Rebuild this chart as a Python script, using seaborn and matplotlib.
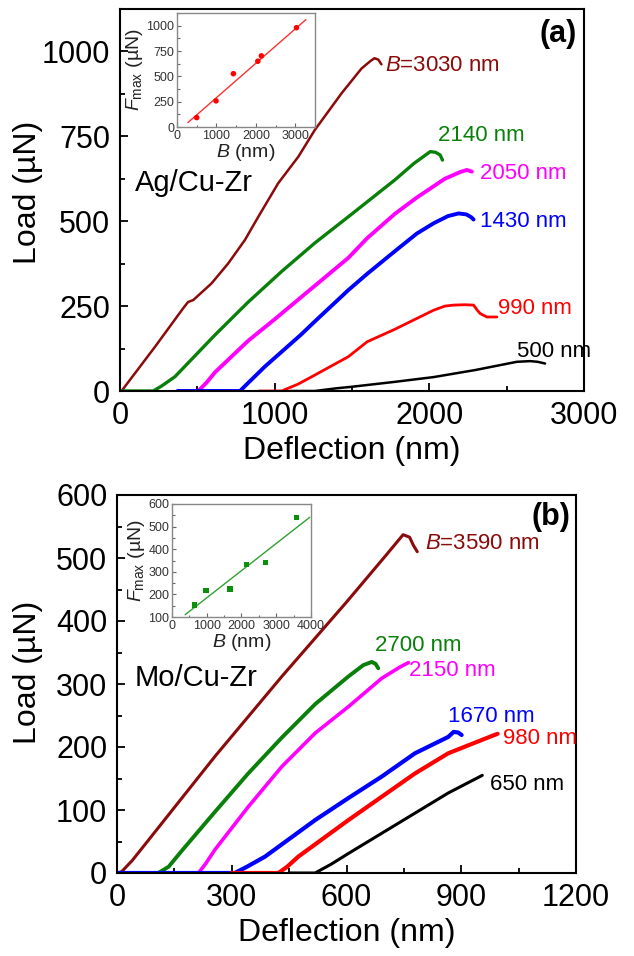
import numpy as np
import pandas as pd
import matplotlib
matplotlib.use("Agg")
import matplotlib.pyplot as plt
from matplotlib.ticker import MultipleLocator
import seaborn as sns

sns.set_style("ticks")
plt.rcParams['font.family'] = ['Liberation Sans', 'DejaVu Sans']
plt.rcParams['mathtext.fontset'] = 'custom'
plt.rcParams['mathtext.rm'] = 'Liberation Sans'
plt.rcParams['mathtext.it'] = 'Liberation Sans:italic'
plt.rcParams['mathtext.bf'] = 'Liberation Sans:bold'
plt.rcParams['xtick.bottom'] = True
plt.rcParams['ytick.left'] = True
plt.rcParams['text.color'] = 'black'
plt.rcParams['axes.labelcolor'] = 'black'
plt.rcParams['xtick.color'] = 'black'
plt.rcParams['ytick.color'] = 'black'

# ---------------- Panel (a): Ag/Cu-Zr ----------------
a_labels = ["B=3030 nm", "2140 nm", "2050 nm", "1430 nm", "990 nm", "500 nm"]
a_brown_x = [0, 15, 226, 409, 440, 474, 592, 700, 808, 894, 1023, 1153, 1260, 1433, 1562, 1620, 1645, 1670, 1690]
a_brown_y = [0, 3, 130, 244, 262, 268, 317, 376, 445, 513, 612, 690, 769, 877, 950, 972, 980, 976, 962]
a_green_x = [0, 215, 270, 355, 614, 829, 1045, 1260, 1476, 1778, 1900, 2006, 2040, 2070, 2085]
a_green_y = [0, 0, 15, 42, 165, 262, 352, 436, 513, 622, 670, 705, 703, 695, 680]
a_magenta_x = [480, 506, 560, 614, 829, 1002, 1260, 1476, 1598, 1778, 1920, 2100, 2200, 2243, 2275]
a_magenta_y = [0, 0, 25, 55, 148, 212, 310, 392, 450, 522, 570, 625, 645, 651, 646]
a_blue_x = [372, 776, 820, 937, 1168, 1260, 1476, 1598, 1778, 1920, 2028, 2120, 2189, 2240, 2270, 2286]
a_blue_y = [0, 0, 20, 72, 165, 205, 297, 345, 412, 464, 494, 515, 523, 520, 512, 505]
a_red_x = [900, 1045, 1150, 1260, 1476, 1598, 1778, 2028, 2100, 2157, 2230, 2286, 2310, 2329, 2372, 2437]
a_red_y = [0, 0, 20, 47, 101, 145, 182, 238, 250, 253, 254, 253, 238, 228, 218, 218]
a_black_x = [1100, 1260, 1400, 1490, 1778, 2028, 2300, 2566, 2652, 2700, 2748]
a_black_y = [0, 0, 8, 12, 27, 41, 62, 86, 88, 86, 81]

# inset (a)
ia_B = [500, 990, 1430, 2050, 2140, 3030]
ia_F = [93, 258, 526, 649, 702, 980]
ia_fit_B = [275, 3270]
ia_fit_F = [43, 1060]

# ---------------- Panel (b): Mo/Cu-Zr ----------------
b_labels = ["B=3590 nm", "2700 nm", "2150 nm", "1670 nm", "980 nm", "650 nm"]
b_brown_x = [0, 12, 40, 82, 256, 431, 600, 700, 748, 765, 775, 785]
b_brown_y = [0, 2, 20, 52, 185, 312, 430, 502, 537, 533, 520, 510]
b_green_x = [0, 108, 135, 169, 256, 343, 431, 518, 605, 644, 666, 676, 683]
b_green_y = [0, 0, 10, 35, 97, 158, 215, 268, 312, 330, 335, 332, 325]
b_magenta_x = [120, 213, 232, 256, 343, 431, 518, 605, 692, 740, 762]
b_magenta_y = [0, 0, 15, 37, 105, 169, 222, 264, 309, 327, 334]
b_blue_x = [0, 308, 340, 387, 518, 605, 692, 779, 866, 880, 892, 901]
b_blue_y = [0, 0, 10, 26, 84, 119, 153, 190, 216, 224, 223, 219]
b_red_x = [300, 422, 445, 474, 605, 692, 779, 866, 953, 995]
b_red_y = [0, 0, 10, 26, 84, 121, 158, 190, 211, 221]
b_black_x = [450, 518, 560, 605, 692, 779, 866, 955]
b_black_y = [0, 0, 14, 31, 63, 95, 127, 155]

# inset (b)
ib_B = [650, 980, 1670, 2150, 2700, 3590]
ib_F = [153, 219, 224, 334, 340, 541]
ib_fit_B = [377, 3962]
ib_fit_F = [110, 541]

colors = ["#8B0A0A", "#0A800A", "#FF00FF", "#0000FF", "#FF0000", "#000000"]
widths_a = [1.8, 2.4, 2.8, 2.8, 2.0, 1.8]
widths_b = [2.2, 2.8, 2.6, 3.0, 3.0, 2.2]

fig = plt.figure(figsize=(6.34, 9.56), dpi=100)
fig.patch.set_facecolor("white")

axA = fig.add_axes([120/634, 1-391/956, 464/634, 382/956])
axB = fig.add_axes([117/634, 1-873/956, 459/634, 378/956])


def draw_curves(ax, xs, ys, widths):
    for x, y, c, w in zip(xs, ys, colors, widths):
        df = pd.DataFrame({"x": x, "y": y})
        sns.lineplot(data=df, x="x", y="y", ax=ax, color=c, lw=w,
                     sort=False, estimator=None)


def style_main(ax):
    for s in ax.spines.values():
        s.set_visible(True)
        s.set_linewidth(1.5)
        s.set_color("black")
    ax.tick_params(which="both", direction="in", bottom=True, left=True,
                   top=False, right=False, labelsize=22, width=1.3, pad=7,
                   color="black", labelcolor="black")
    ax.tick_params(which="major", length=6)
    ax.tick_params(which="minor", length=3.5)


draw_curves(axA, [a_brown_x, a_green_x, a_magenta_x, a_blue_x, a_red_x, a_black_x],
            [a_brown_y, a_green_y, a_magenta_y, a_blue_y, a_red_y, a_black_y], widths_a)
axA.set_xlim(0, 3000)
axA.set_ylim(0, 1125)
axA.xaxis.set_major_locator(MultipleLocator(1000))
axA.xaxis.set_minor_locator(MultipleLocator(500))
axA.yaxis.set_major_locator(MultipleLocator(250))
axA.yaxis.set_minor_locator(MultipleLocator(125))
style_main(axA)
axA.set_xlabel("Deflection (nm)", fontsize=23, labelpad=4, color="black")
axA.set_ylabel("Load (µN)", fontsize=23, color="black")
axA.yaxis.set_label_coords(-0.166, 0.52)

a_pos = [(1713, 960), (2056, 751), (2327, 642), (2327, 499), (2443, 244), (2564, 116)]
for (tx, ty), lab, c in zip(a_pos, a_labels, colors):
    if lab.startswith("B="):
        lab = r"$\mathit{B}$" + lab[1:]
    axA.text(tx, ty, lab, color=c, fontsize=16, ha="left", va="center")
axA.text(97, 612, "Ag/Cu-Zr", fontsize=21, ha="left", va="center", color="black")
axA.text(0.984, 0.935, "(a)", transform=axA.transAxes, fontsize=22,
         fontweight="bold", ha="right", va="center", color="black")

draw_curves(axB, [b_brown_x, b_green_x, b_magenta_x, b_blue_x, b_red_x, b_black_x],
            [b_brown_y, b_green_y, b_magenta_y, b_blue_y, b_red_y, b_black_y], widths_b)
axB.set_xlim(0, 1200)
axB.set_ylim(0, 600)
axB.xaxis.set_major_locator(MultipleLocator(300))
axB.xaxis.set_minor_locator(MultipleLocator(150))
axB.yaxis.set_major_locator(MultipleLocator(100))
axB.yaxis.set_minor_locator(MultipleLocator(50))
style_main(axB)
axB.set_xlabel("Deflection (nm)", fontsize=23, labelpad=4, color="black")
axB.set_ylabel("Load (µN)", fontsize=23, color="black")
axB.yaxis.set_label_coords(-0.161, 0.532)

b_pos = [(805, 523), (674, 361), (764, 322), (866, 249), (1010, 213), (975, 141)]
for (tx, ty), lab, c in zip(b_pos, b_labels, colors):
    if lab.startswith("B="):
        lab = r"$\mathit{B}$" + lab[1:]
    axB.text(tx, ty, lab, color=c, fontsize=16, ha="left", va="center")
axB.text(47, 309, "Mo/Cu-Zr", fontsize=21, ha="left", va="center", color="black")
axB.text(0.987, 0.943, "(b)", transform=axB.transAxes, fontsize=22,
         fontweight="bold", ha="right", va="center", color="black")

# ---------------- insets ----------------
def style_inset(ax):
    for s in ax.spines.values():
        s.set_visible(True)
        s.set_linewidth(1.0)
        s.set_color("#888888")
    ax.tick_params(which="both", direction="in", bottom=True, left=True,
                   top=False, right=False, labelsize=9, labelcolor="#333333",
                   color="#666666", width=0.8, pad=2)
    ax.tick_params(which="major", length=3)
    ax.tick_params(which="minor", length=1.8)
    ax.set_facecolor("white")


insA = fig.add_axes([177/634, 1-127/956, 138/634, 114/956])
sns.lineplot(x=ia_fit_B, y=ia_fit_F, ax=insA, color="#FF3030", lw=1.0,
             sort=False, estimator=None)
sns.scatterplot(x=ia_B, y=ia_F, ax=insA, color="#FF0000", marker="o", s=16,
                edgecolor="none", zorder=3)
insA.set_xlim(0, 3500)
insA.set_ylim(0, 1125)
insA.xaxis.set_major_locator(MultipleLocator(1000))
insA.xaxis.set_minor_locator(MultipleLocator(500))
insA.yaxis.set_major_locator(MultipleLocator(250))
insA.yaxis.set_minor_locator(MultipleLocator(125))
style_inset(insA)
insA.set_xlabel(r"$\mathit{B}$ (nm)", fontsize=14, color="#222222", labelpad=0)
insA.set_ylabel(r"$\mathit{F}_{\mathrm{max}}$ (µN)", fontsize=14, color="#222222", labelpad=1)

insB = fig.add_axes([172/634, 1-617/956, 139/634, 113/956])
sns.lineplot(x=ib_fit_B, y=ib_fit_F, ax=insB, color="#30A030", lw=1.0,
             sort=False, estimator=None)
sns.scatterplot(x=ib_B, y=ib_F, ax=insB, color="#0A900A", marker="s", s=14,
                edgecolor="none", zorder=3)
insB.set_xlim(0, 4000)
insB.set_ylim(100, 600)
insB.xaxis.set_major_locator(MultipleLocator(1000))
insB.xaxis.set_minor_locator(MultipleLocator(500))
insB.yaxis.set_major_locator(MultipleLocator(100))
insB.yaxis.set_minor_locator(MultipleLocator(50))
style_inset(insB)
insB.set_xlabel(r"$\mathit{B}$ (nm)", fontsize=14, color="#222222", labelpad=0)
insB.set_ylabel(r"$\mathit{F}_{\mathrm{max}}$ (µN)", fontsize=14, color="#222222", labelpad=1)

fig.savefig("out.png", dpi=100, facecolor="white")
